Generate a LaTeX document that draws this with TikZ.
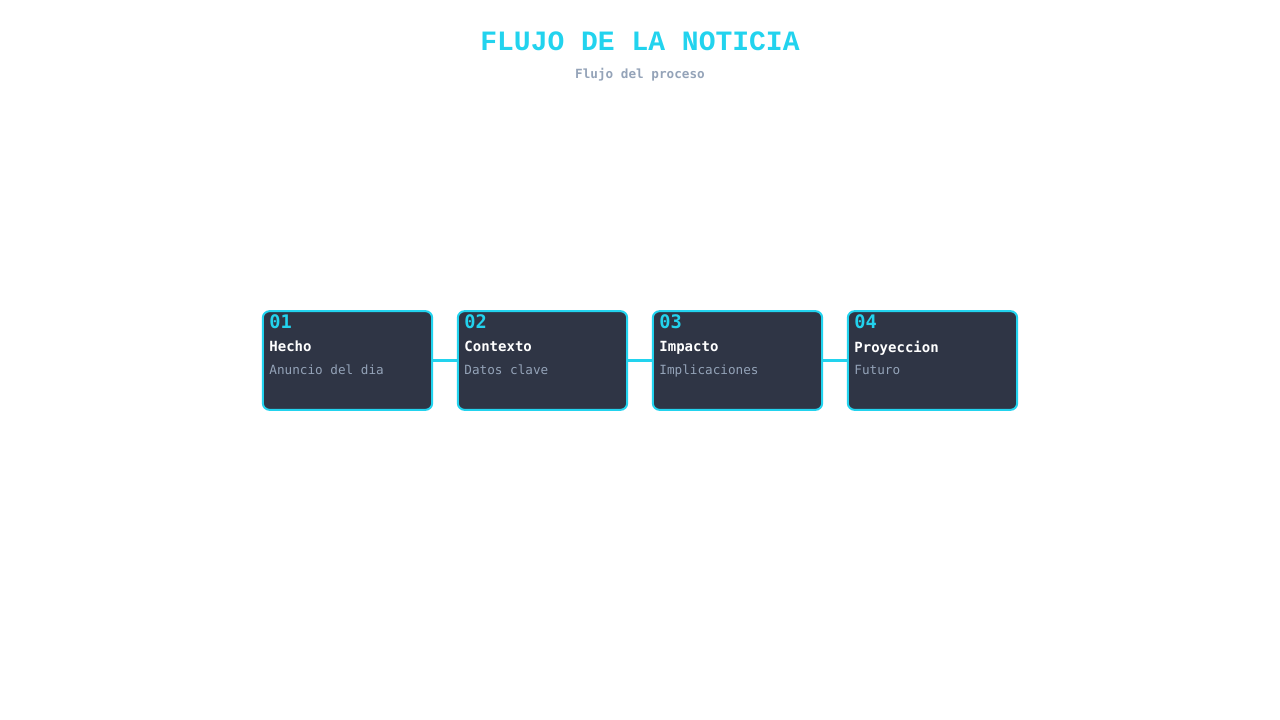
\documentclass[tikz,border=0pt]{standalone}
\usepackage{fontspec}
\setmonofont{DejaVu Sans Mono}
\newfontfamily\titlefont{Liberation Mono}
\usetikzlibrary{positioning}
\definecolor{cyanacc}{HTML}{22D3EE}
\definecolor{boxfill}{HTML}{2F3545}
\definecolor{subgray}{HTML}{94A3B8}
\tikzset{stage/.style={draw=cyanacc,line width=1.5pt,fill=boxfill,rounded corners=5pt,minimum width=127pt,minimum height=74pt,inner sep=0pt}}
\tikzset{num/.style={anchor=north west,inner sep=0pt,font=\ttfamily\bfseries\fontsize{14}{14}\selectfont,text=cyanacc}}
\tikzset{head/.style={anchor=north west,inner sep=0pt,font=\ttfamily\bfseries\fontsize{10.5}{10.5}\selectfont,text=white}}
\tikzset{desc/.style={anchor=north west,inner sep=0pt,font=\ttfamily\fontsize{9.5}{9.5}\selectfont,text=subgray}}
\tikzset{link/.style={draw=cyanacc,line width=2pt}}

\begin{document}
\begin{tikzpicture}[x=0.75pt,y=-0.75pt]
    \useasboundingbox (0,0) rectangle (1280,720);
    \node[font=\titlefont\bfseries\fontsize{21}{21}\selectfont,text=cyanacc] (title) at (640,41) {FLUJO DE LA NOTICIA};
    \node[font=\ttfamily\bfseries\fontsize{9.5}{9.5}\selectfont,text=subgray] (sub) at (640,75) {Flujo del proceso};

    \foreach \i/\x/\h/\d in {1/347.5/Hecho/Anuncio del dia,2/542.5/Contexto/Datos clave,3/737.5/Impacto/Implicaciones,4/932.5/Proyeccion/Futuro}{
        \node[stage] (b\i) at (\x,360.5) {};
        \node[num] (n\i) at ([xshift=5.5pt,yshift=-3.5pt]b\i.north west) {0\i};
        \node[head] (h\i) at ([xshift=5.5pt,yshift=-23pt]b\i.north west) {\h};
        \node[desc] (d\i) at ([xshift=5.5pt,yshift=-41pt]b\i.north west) {\d};
    }
    \foreach \a/\b in {1/2,2/3,3/4}
        \path[link] (b\a) -- (b\b);
\end{tikzpicture}
\end{document}
